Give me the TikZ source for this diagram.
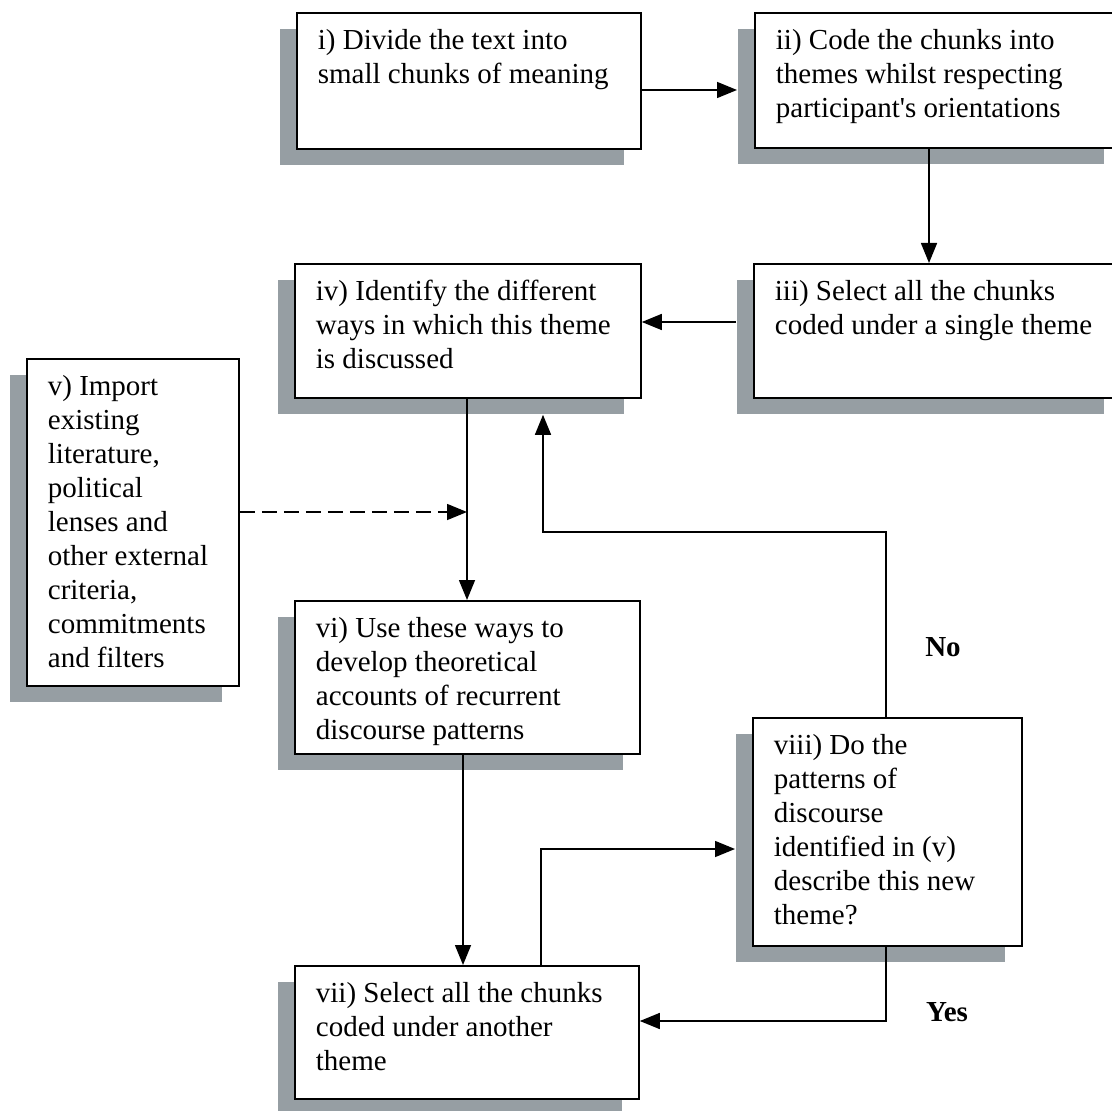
\documentclass[tikz,border=0pt]{standalone}
\usepackage{fontspec}
\setmainfont{Liberation Serif}
\usetikzlibrary{arrows.meta,shadows}
\definecolor{shgray}{RGB}{150,158,163}
\newcommand\bxt[3]{\parbox[c][#2][t]{#1}{\raggedright\leftskip=10.5pt\rule{0pt}{18.5pt}#3}}
\begin{document}
\begin{tikzpicture}[x=0.5pt,y=-0.5pt,
  every node/.style={font=\fontsize{14.5pt}{17pt}\selectfont},
  stepbox/.style={draw, line width=0.9pt, fill=white, inner sep=0pt, anchor=north west,
    drop shadow={shadow xshift=-8.5pt, shadow yshift=-8pt, fill=shgray, opacity=1}},
  arr/.style={line width=0.75pt, -{Triangle[length=10pt,width=8pt]}},
  lbl/.style={font=\fontsize{14.5pt}{17pt}\selectfont\bfseries}]
\fill[white] (0,0) rectangle (1111,1111);
\useasboundingbox (0,0) rectangle (1111,1111);

\node[stepbox] (i) at (296,12) {\bxt{172pt}{68pt}{i) Divide the text into\\ small chunks of meaning}};
\node[stepbox] (ii) at (754,12) {\bxt{183pt}{67.5pt}{ii) Code the chunks into\\ themes whilst respecting\\ participant\textquotesingle s orientations}};
\node[stepbox] (iii) at (753,263) {\bxt{183.5pt}{67pt}{iii) Select all the chunks\\ coded under a single theme}};
\node[stepbox] (iv) at (294,263) {\bxt{173pt}{67pt}{iv) Identify the different\\ ways in which this theme\\ is discussed}};
\node[stepbox] (v) at (26,358) {\bxt{106pt}{163.5pt}{v) Import\\ existing\\ literature,\\ political\\ lenses and\\ other external\\ criteria,\\ commitments\\ and filters}};
\node[stepbox] (vi) at (294,600) {\bxt{172.5pt}{76.5pt}{vi) Use these ways to\\ develop theoretical\\ accounts of recurrent\\ discourse patterns}};
\node[stepbox] (vii) at (294,965) {\bxt{172pt}{66.5pt}{vii) Select all the chunks\\ coded under another\\ theme}};
\node[stepbox] (viii) at (752,717) {\bxt{134.5pt}{114pt}{viii) Do the\\ patterns of\\ discourse\\ identified in (v)\\ describe this new\\ theme?}};

\coordinate (join) at (467,512);

\draw[arr, shorten >=8.5pt] (i.east |- 0,90) -- (ii.west |- 0,90);
\draw[arr] (ii.south -| 929,0) -- (iii.north -| 929,0);
\draw[arr, shorten <=8.5pt] (iii.west |- 0,322) -- (iv.east |- 0,322);
\draw[arr] (iv.south -| join) -- (vi.north -| join);
\draw[arr, dashed, dash pattern=on 7.5pt off 3.5pt] (v.east |- join) -- (join);
\draw[arr] (vi.south -| 463,0) -- (vii.north -| 463,0);
\draw[arr, shorten >=8.5pt] (vii.north -| 541,0) |- (viii.west |- 0,849);
\draw[arr] (viii.south -| 886,0) |- (vii.east |- 0,1021);
\draw[arr, shorten >=8pt] (viii.north -| 886,0) |- (543,532) -- (iv.south -| 543,0);

\node[lbl] (no) at (943,647) {No};
\node[lbl] (yes) at (947,1012) {Yes};
\end{tikzpicture}
\end{document}
